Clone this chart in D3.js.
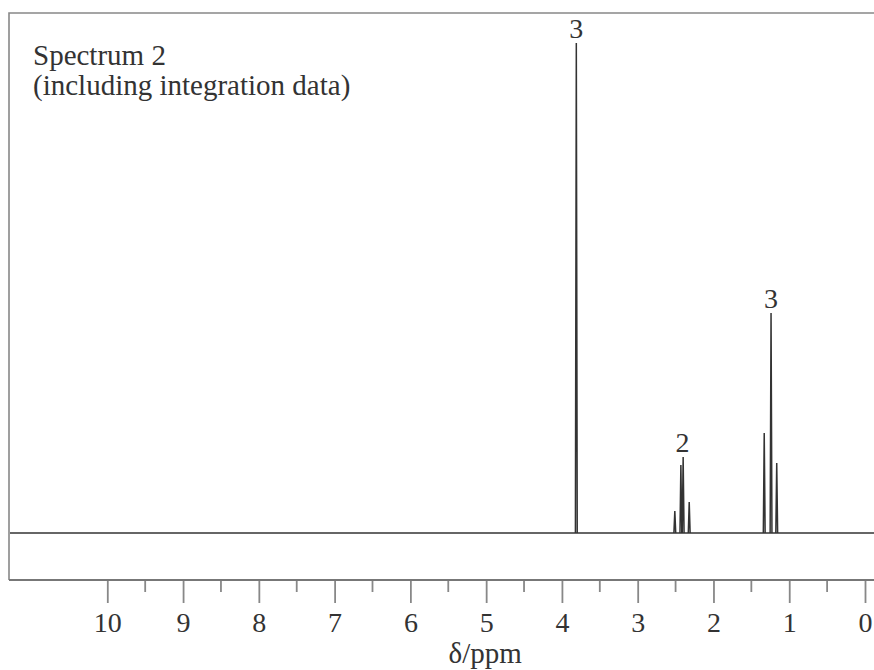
<!DOCTYPE html>
<html>
<head>
<meta charset="utf-8">
<script src="https://d3js.org/d3.v7.min.js"></script>
<style>
  body { margin: 0; background: #fff; }
  text { font-family: "Liberation Serif", "DejaVu Serif", serif; fill: #333; }
</style>
</head>
<body>
<div id="chart"></div>
<script>
// peak positions (ppm) and relative heights (tallest singlet = 100)
var peakShifts  = [3.81, 2.51, 2.43, 2.40, 2.32, 1.33, 1.24, 1.165];
var peakHeights = [100, 4.5, 13.9, 15.5, 6.3, 20.4, 44.9, 14.3];

// integration labels, put over the tallest line of each group
var integrationLabels = ["3", "2", "3"];
var integrationShifts = [3.81, 2.41, 1.24];
var integrationHeights = [100, 15.5, 44.9];

var majorTicks = [10, 9, 8, 7, 6, 5, 4, 3, 2, 1, 0];
var minorTicks = [9.5, 8.5, 7.5, 6.5, 5.5, 4.5, 3.5, 2.5, 1.5, 0.5];

var titleLines = ["Spectrum 2", "(including integration data)"];

var W = 874, H = 670;
var frame = {left: 9, top: 13, bottom: 580, right: 874};

var svg = d3.select("#chart")
  .append("svg")
    .attr("width", W)
    .attr("height", H);

// x runs from high ppm on the left to 0 on the right
var x = d3.scaleLinear()
  .domain([10, 0])
  .range([107.3, 865]);

var y = d3.scaleLinear()
  .domain([0, 100])
  .range([533, 43]);

// frame: left and top lines
svg.append("path")
  .attr("d", "M" + W + "," + frame.top + "H" + frame.left + "V" + frame.bottom)
  .style("fill", "none")
  .style("stroke", "#888")
  .style("stroke-width", 1.6);

// bottom axis with long major and short minor ticks
var xAxis = d3.axisBottom(x)
  .tickValues(majorTicks)
  .tickSize(23)
  .tickPadding(6)
  .tickFormat(d3.format("d"));

var gx = svg.append("g")
  .attr("transform", "translate(0," + frame.bottom + ")")
  .call(xAxis);

gx.select(".domain").remove();
gx.selectAll(".tick line").style("stroke", "#888").style("stroke-width", 1.8);
gx.selectAll(".tick text")
  .attr("y", 52)
  .attr("dy", 0)
  .style("font-family", "Liberation Serif")
  .style("font-size", "28px")
  .style("fill", "#333");

gx.selectAll(".minor")
  .data(minorTicks)
  .enter()
  .append("line")
    .attr("class", "minor")
    .attr("x1", function(d) { return x(d); })
    .attr("x2", function(d) { return x(d); })
    .attr("y1", 0)
    .attr("y2", 12)
    .style("stroke", "#888")
    .style("stroke-width", 1.8);

svg.append("line")
  .attr("x1", frame.left)
  .attr("x2", W)
  .attr("y1", frame.bottom)
  .attr("y2", frame.bottom)
  .style("stroke", "#777")
  .style("stroke-width", 1.8);

// axis title
svg.append("text")
  .attr("x", x(5) - 1)
  .attr("y", 663)
  .attr("text-anchor", "middle")
  .style("font-size", "29px")
  .text("\u03b4/ppm");

// baseline of the spectrum
svg.append("line")
  .attr("x1", frame.left + 1)
  .attr("x2", W)
  .attr("y1", y(0))
  .attr("y2", y(0))
  .style("stroke", "#666")
  .style("stroke-width", 1.8);

// each line drawn as a narrow spike
var halfWidth = 0.012;
var peaks = peakShifts.map(function(s, i) { return {shift: s, height: peakHeights[i]}; });

svg.append("g")
  .selectAll("path")
  .data(peaks)
  .enter()
  .append("path")
    .attr("d", function(d) {
      return d3.line()([
        [x(d.shift + halfWidth), y(0)],
        [x(d.shift), y(d.height)],
        [x(d.shift - halfWidth), y(0)]
      ]);
    })
    .style("fill", "none")
    .style("stroke", "#333")
    .style("stroke-width", 1.5);

// integration numbers
svg.append("g")
  .selectAll("text")
  .data(integrationLabels)
  .enter()
  .append("text")
    .attr("x", function(d, i) { return x(integrationShifts[i]); })
    .attr("y", function(d, i) { return y(integrationHeights[i]) - 5; })
    .attr("text-anchor", "middle")
    .style("font-size", "28px")
    .text(function(d) { return d; });

// spectrum title, top left
svg.append("g")
  .selectAll("text")
  .data(titleLines)
  .enter()
  .append("text")
    .attr("x", 33)
    .attr("y", function(d, i) { return 65 + i * 30; })
    .style("font-size", "29px")
    .text(function(d) { return d; });
</script>
</body>
</html>
